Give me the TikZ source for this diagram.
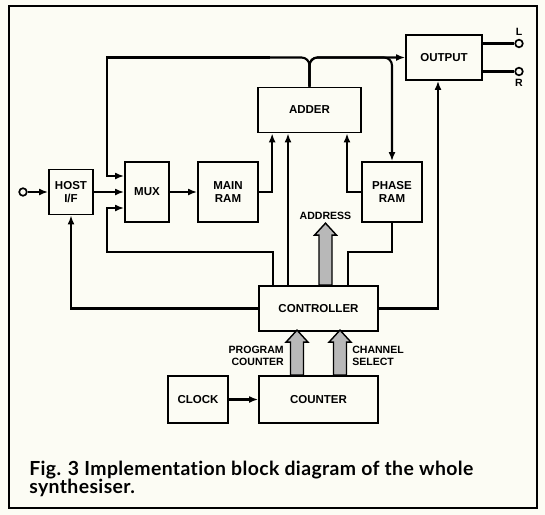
\documentclass[tikz,border=0pt]{standalone}
\usepackage{fontspec}
\setmainfont{Liberation Sans}
\newfontfamily\capfont[LetterSpace=2, Ligatures=CommonOff]{Lato}
\usetikzlibrary{arrows.meta}
\definecolor{paper}{RGB}{252,252,244}
\tikzstyle{block} = [rectangle, minimum width=1.5cm, minimum height=1.5cm, inner sep=0pt, align=center, draw=black, line width=1.2pt, font=\bfseries\fontsize{8.2}{9}\selectfont]
\tikzstyle{wideBlock} = [block, minimum width=2.975cm, minimum height=1.125cm]
\tikzstyle{port} = [circle, draw=black, line width=1.2pt, fill=paper, minimum size=0.19cm, inner sep=0pt]
\tikzstyle{wire} = [line width=1.5pt]
\tikzstyle{arrow} = [wire, ->, >={Latex[length=6.5pt, width=5pt]}]
\tikzstyle{bus} = [draw=black, line width=1pt, fill=black!28]
\tikzstyle{tag} = [font=\bfseries\fontsize{7.5}{8.5}\selectfont, inner sep=0pt]

\begin{document}
\begin{tikzpicture}

    \fill[paper] (0,0) rectangle (13.625,-12.875);
    \useasboundingbox (0,0) rectangle (13.625,-12.875);
    \draw[line width=1.5pt] (0.235,-0.15) rectangle (13.435,-12.7);

    \node (hostIf) [block, minimum width=1.1cm, minimum height=1.125cm] at (1.775,-4.8) {HOST\\I/F};
    \node (mux) [block, minimum width=1.1cm, right of=hostIf, xshift=0.9cm] {MUX};
    \node (mainRam) [block, right of=mux, xshift=1.025cm] {MAIN\\RAM};
    \node (phaseRam) [block, right of=mainRam, xshift=3.1cm] {PHASE\\RAM};

    \node (adder) [wideBlock, minimum width=2.575cm, above of=mainRam, yshift=1.05cm, xshift=2.0375cm] {ADDER};
    \node (output) [wideBlock, minimum width=1.9cm, above of=phaseRam, yshift=2.3625cm, xshift=1.3cm] {OUTPUT};

    \node (controller) [wideBlock, below of=adder, yshift=-3.9625cm, xshift=0.225cm] {CONTROLLER};
    \node (counter) [wideBlock, minimum height=1.175cm, below of=controller, yshift=-1.275cm] {COUNTER};
    \node (clock) [block, minimum height=1.175cm, left of=counter, xshift=-2.0125cm] {CLOCK};

    \node (hostIn) [port, left of=hostIf, xshift=-0.2cm] {};
    \node (outL) [port, right of=output, xshift=0.875cm, yshift=0.35cm, label={[tag, label distance=0.08cm]above:L}] {};
    \node (outR) [port, right of=output, xshift=0.875cm, yshift=-0.35cm, label={[tag, label distance=0.08cm]below:R}] {};

    % wide data paths
    \coordinate (addrTail) at ([xshift=0.175cm]controller.north);
    \coordinate (pcTail) at ([xshift=-0.5375cm]counter.north);
    \coordinate (chTail) at ([xshift=0.5375cm]counter.north);
    \draw[bus] (addrTail) -- ++(0.1625,0) -- ++(0,1.25) -- ++(0.1125,0) -- ++(-0.275,0.3) -- ++(-0.275,-0.3) -- ++(0.1125,0) -- ++(0,-1.25) -- cycle;
    \draw[bus] (pcTail) -- ++(0.1625,0) -- ++(0,0.825) -- ++(0.1125,0) -- ++(-0.275,0.3) -- ++(-0.275,-0.3) -- ++(0.1125,0) -- ++(0,-0.825) -- cycle;
    \draw[bus] (chTail) -- ++(0.1625,0) -- ++(0,0.825) -- ++(0.1125,0) -- ++(-0.275,0.3) -- ++(-0.275,-0.3) -- ++(0.1125,0) -- ++(0,-0.825) -- cycle;
    \node (address) [tag, above=0.08cm] at ([yshift=1.55cm]addrTail) {ADDRESS};
    \node (progCount) [tag, align=right, anchor=east] at ([xshift=-0.325cm, yshift=0.475cm]pcTail) {PROGRAM\\COUNTER};
    \node (chanSel) [tag, align=left, anchor=west] at ([xshift=0.3cm, yshift=0.475cm]chTail) {CHANNEL\\SELECT};

    \draw[arrow] (hostIn) -- (hostIf);
    \draw[arrow] (hostIf) -- (mux);
    \draw[arrow] (mux) -- (mainRam);
    \draw[arrow] (mainRam) -| ([xshift=0.375cm]adder.south west);
    \draw[arrow] ([xshift=-0.7625cm]controller.north) -- ([xshift=-0.7625cm]controller.north |- adder.south);
    \draw[arrow] (phaseRam) -| ([xshift=0.9375cm]adder.south);

    \draw[arrow] ([xshift=-1.1375cm]controller.north) -- ++(0,0.825) -| ([xshift=-0.425cm, yshift=-0.4cm]mux.west) -- ([yshift=-0.4cm]mux.west);
    \draw[wire] ([xshift=0.7375cm]controller.north) -- ++(0,0.825) -| (phaseRam.south);
    \draw[arrow] (controller) -| (hostIf);
    \draw[arrow] (controller) -| ([xshift=-0.15cm]output.south);
    \draw[arrow] (clock) -- (counter);

    % adder output fans out along the top
    \coordinate (busTop) at ([xshift=-0.425cm]mux.west |- output.west);
    \draw[arrow, rounded corners=0.2cm] (adder.north) |- (output.west);
    \draw[arrow, rounded corners=0.2cm] (adder.north) |- (phaseRam.north |- output.west) -- (phaseRam.north);
    \draw[wire, rounded corners=0.2cm] (adder.north) |- ([xshift=-1cm]adder.north |- busTop);
    \draw[arrow] ([xshift=-1cm]adder.north |- busTop) -- (busTop) |- ([yshift=0.4cm]mux.west);

    \draw[wire] ([yshift=0.35cm]output.east) -- (outL);
    \draw[wire] ([yshift=-0.35cm]output.east) -- (outR);

    \node (caption) [anchor=base west, align=left, inner sep=0pt, font=\capfont\bfseries\fontsize{13.8}{12.8}\selectfont] at (0.725,-12.325) {Fig. 3 Implementation block diagram of the whole\\synthesiser.};

\end{tikzpicture}
\end{document}
